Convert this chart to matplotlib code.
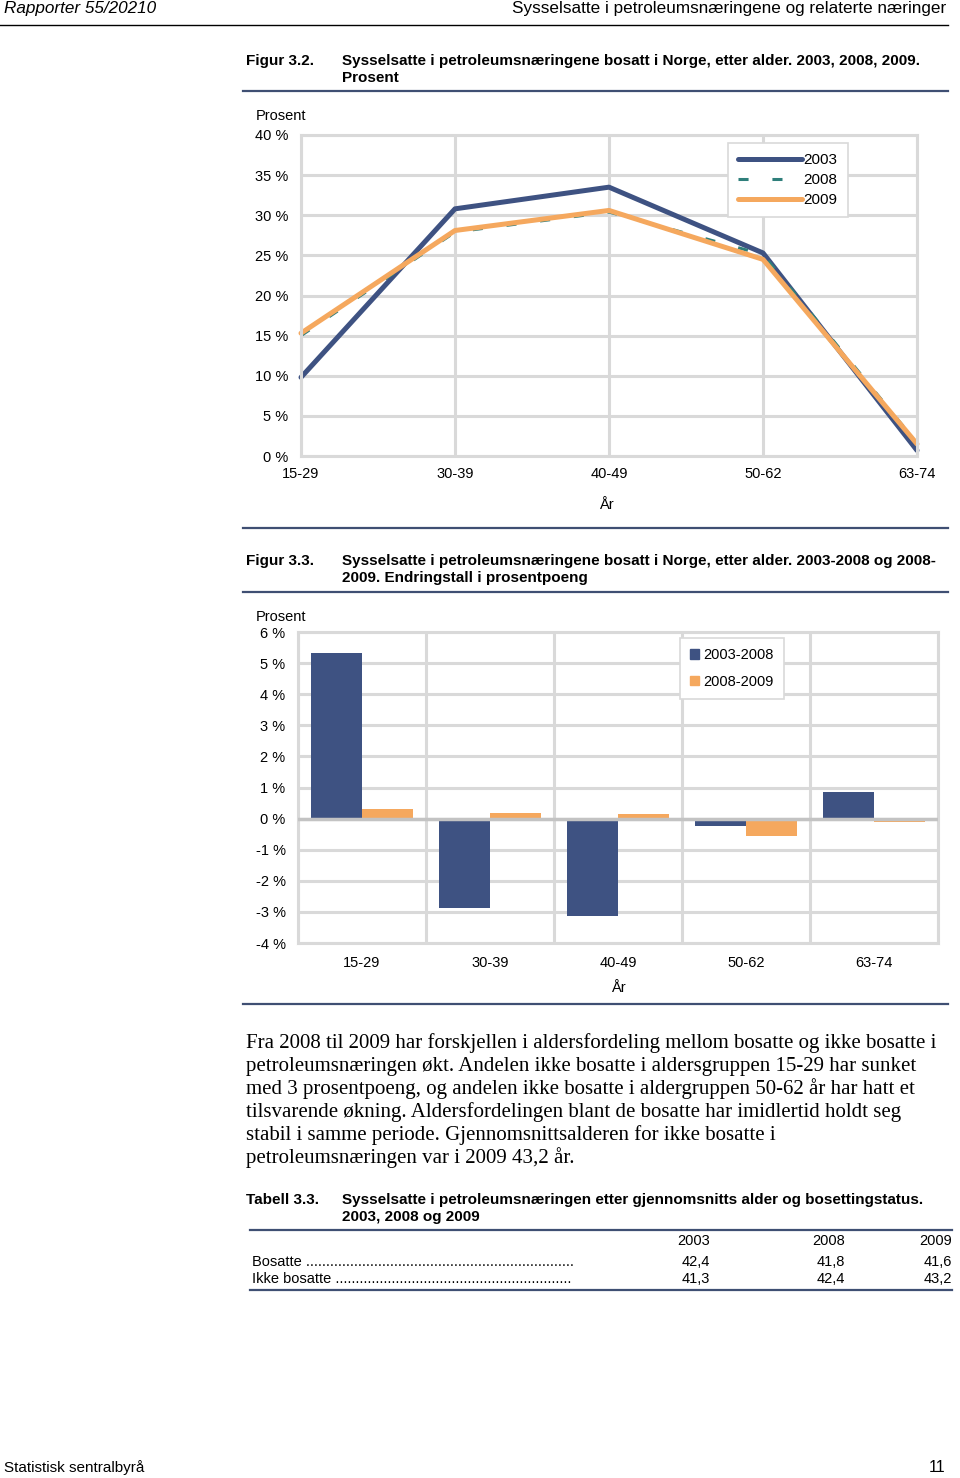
import numpy as np
import matplotlib
matplotlib.use("Agg")
import matplotlib.pyplot as plt
from matplotlib.patches import Patch
from matplotlib.lines import Line2D

W, H = 960, 1478

# data
alder = ["15-29", "30-39", "40-49", "50-62", "63-74"]
andel_2003 = [9.8, 30.8, 33.5, 25.3, 0.7]
andel_2008 = [15.0, 27.9, 30.4, 25.1, 1.6]
andel_2009 = [15.3, 28.1, 30.6, 24.5, 1.5]

endring_03_08 = [5.34, -2.86, -3.13, -0.24, 0.84]
endring_08_09 = [0.32, 0.17, 0.15, -0.56, -0.10]

tabell_aar = ["2003", "2008", "2009"]
tabell_rader = ["Bosatte", "Ikke bosatte"]
tabell_verdier = [["42,4", "41,8", "41,6"], ["41,3", "42,4", "43,2"]]

tekst = [
    "Fra 2008 til 2009 har forskjellen i aldersfordeling mellom bosatte og ikke bosatte i",
    "petroleumsnæringen økt. Andelen ikke bosatte i aldersgruppen 15-29 har sunket",
    "med 3 prosentpoeng, og andelen ikke bosatte i aldergruppen 50-62 år har hatt et",
    "tilsvarende økning. Aldersfordelingen blant de bosatte har imidlertid holdt seg",
    "stabil i samme periode. Gjennomsnittsalderen for ikke bosatte i",
    "petroleumsnæringen var i 2009 43,2 år.",
]

BLUE = "#3e5282"
TEAL = "#2f7f7b"
ORANGE = "#f5a85e"
GRID = "#d9d9d9"
RULE = "#3f4f73"
SANS = ["Liberation Sans", "DejaVu Sans"]
SERIF = ["Liberation Serif", "DejaVu Serif"]

plt.rcParams["font.family"] = SANS

fig = plt.figure(figsize=(W / 100, H / 100), dpi=100)


def txt(x, y, s, **kw):
    kw.setdefault("va", "center")
    fig.text(x / W, 1 - y / H, s, **kw)


def rule(y, x0, x1, color=RULE, lw=1.6):
    fig.add_artist(Line2D([x0 / W, x1 / W], [1 - y / H, 1 - y / H],
                          color=color, lw=lw, transform=fig.transFigure))


def axes_px(l, t, r, b):
    return fig.add_axes([l / W, 1 - b / H, (r - l) / W, (b - t) / H])


def style_axes(ax):
    for s in ax.spines.values():
        s.set_color(GRID)
        s.set_linewidth(2.2)
    ax.tick_params(length=0, labelsize=10.5)
    ax.set_axisbelow(True)


# header / footer
txt(4, 8, "Rapporter 55/20210", fontsize=12.3, style="italic")
txt(946, 8, "Sysselsatte i petroleumsnæringene og relaterte næringer",
    fontsize=12.3, ha="right")
rule(25, 0, 948, color="black", lw=1.0)
txt(4, 1468, "Statistisk sentralbyrå", fontsize=11)
txt(945, 1468, "11", fontsize=11.5, ha="right")

# figur 3.2
txt(246, 61, "Figur 3.2.", fontsize=11, weight="bold")
txt(342, 61, "Sysselsatte i petroleumsnæringene bosatt i Norge, etter alder. 2003, 2008, 2009.",
    fontsize=11, weight="bold")
txt(342, 78, "Prosent", fontsize=11, weight="bold")
rule(91, 243, 948)

ax1 = axes_px(301, 135, 917, 456)
x = np.arange(len(alder))
ax1.plot(x, andel_2003, color=BLUE, lw=3.6, solid_capstyle="round", clip_on=False, label="2003")
ax1.plot(x, andel_2008, color=TEAL, lw=2.2, dashes=(3.3, 7.8), clip_on=False, label="2008")
ax1.plot(x, andel_2009, color=ORANGE, lw=3.6, solid_capstyle="round", clip_on=False, label="2009")
ax1.set_xlim(0, 4)
ax1.set_ylim(0, 40)
ax1.set_xticks(x)
ax1.set_xticklabels(alder)
ax1.set_yticks(range(0, 41, 5))
ax1.set_yticklabels([f"{v} %" for v in range(0, 41, 5)])
ax1.grid(True, color=GRID, lw=2.2)
style_axes(ax1)
ax1.tick_params(axis="y", pad=9)
ax1.tick_params(axis="x", pad=8)
leg1 = ax1.legend(loc="upper left", bbox_to_anchor=(728 / W, 1 - 143 / H),
                  bbox_transform=fig.transFigure, fontsize=11, frameon=True,
                  fancybox=False, edgecolor=GRID, framealpha=1, handlelength=4.2,
                  handletextpad=0.1, borderpad=0.65, labelspacing=0.4,
                  borderaxespad=0)
leg1.get_frame().set_linewidth(1.2)
txt(256, 116, "Prosent", fontsize=10.5)
txt(606, 505, "År", fontsize=10.5, ha="center")

rule(528, 243, 948)

# figur 3.3
txt(246, 561, "Figur 3.3.", fontsize=11, weight="bold")
txt(342, 561, "Sysselsatte i petroleumsnæringene bosatt i Norge, etter alder. 2003-2008 og 2008-",
    fontsize=11, weight="bold")
txt(342, 578, "2009. Endringstall i prosentpoeng", fontsize=11, weight="bold")
rule(592, 243, 948)

ax2 = axes_px(298, 632, 938, 943)
ax2.bar(x - 0.2, endring_03_08, 0.4, color=BLUE, label="2003-2008")
ax2.bar(x + 0.2, endring_08_09, 0.4, color=ORANGE, label="2008-2009")
ax2.axhline(0, color="#c3c3c3", lw=2.5, zorder=5)
ax2.set_xlim(-0.5, 4.5)
ax2.set_ylim(-4, 6)
ax2.set_xticks(x)
ax2.set_xticklabels(alder)
ax2.set_xticks(np.arange(-0.5, 5, 1), minor=True)
ax2.set_yticks(range(-4, 7))
ax2.set_yticklabels([f"{v} %" for v in range(-4, 7)])
ax2.grid(True, axis="y", color=GRID, lw=2.2)
ax2.grid(True, axis="x", which="minor", color=GRID, lw=2.2)
style_axes(ax2)
ax2.tick_params(which="minor", length=0)
ax2.tick_params(axis="y", pad=9)
ax2.tick_params(axis="x", pad=9)
handles = [Patch(color=BLUE, label="2003-2008"), Patch(color=ORANGE, label="2008-2009")]
leg2 = ax2.legend(handles=handles, loc="upper left", bbox_to_anchor=(680 / W, 1 - 638 / H),
                  bbox_transform=fig.transFigure, fontsize=10.5, frameon=True,
                  fancybox=False, edgecolor=GRID, framealpha=1, handlelength=0.6,
                  handleheight=0.6, handletextpad=0.3, borderpad=0.7, labelspacing=0.85,
                  borderaxespad=0)
leg2.get_frame().set_linewidth(1.2)
txt(256, 617, "Prosent", fontsize=10.5)
txt(618, 988, "År", fontsize=10.5, ha="center")

rule(1004, 243, 948)

# brødtekst
for i, linje in enumerate(tekst):
    txt(246, 1043 + 23 * i, linje, fontsize=15.0, family=SERIF)

# tabell 3.3
txt(246, 1200, "Tabell 3.3.", fontsize=11, weight="bold")
txt(342, 1200, "Sysselsatte i petroleumsnæringen etter gjennomsnitts alder og bosettingstatus.",
    fontsize=11, weight="bold")
txt(342, 1217, "2003, 2008 og 2009", fontsize=11, weight="bold")
rule(1230, 250, 952)
kol_x = [710, 845, 952]
for xx, aar in zip(kol_x, tabell_aar):
    txt(xx, 1241, aar, fontsize=10.5, ha="right")
for r, (navn, verdier) in enumerate(zip(tabell_rader, tabell_verdier)):
    y = 1262 + 17 * r
    n_dots = 67 if r == 0 else 59
    txt(252, y, navn + " " + "." * n_dots, fontsize=10.5)
    for xx, v in zip(kol_x, verdier):
        txt(xx, y, v, fontsize=10.5, ha="right")
rule(1290, 250, 952)

fig.savefig("out.png", dpi=100)
